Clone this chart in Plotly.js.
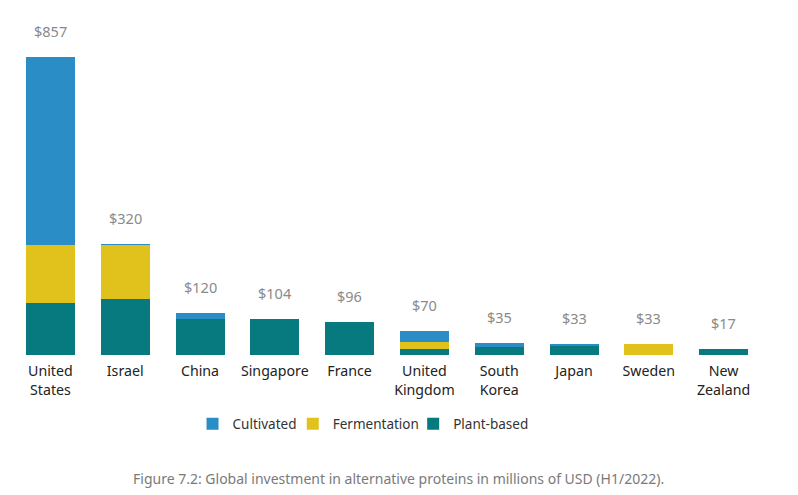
<!DOCTYPE html>
<html>
<head>
<meta charset="utf-8">
<script src="https://cdn.plot.ly/plotly-3.0.1.min.js"></script>
<style>html,body{margin:0;padding:0;background:#fff;}#chart{width:798px;height:495px;}</style>
</head>
<body>
<div id="chart"></div>
<script>
const categories = ["United<br>States","Israel","China","Singapore","France","United<br>Kingdom","South<br>Korea","Japan","Sweden","New<br>Zealand"];
const plantBased  = [150, 162, 104, 104, 96, 17, 24, 25, 0, 17];
const fermentation = [166, 153, 0, 0, 0, 21, 0, 0, 33, 0];
const cultivated  = [541, 5, 16, 0, 0, 32, 11, 8, 0, 0];
const totals      = [857, 320, 120, 104, 96, 70, 35, 33, 33, 17];
const totalLabels = ["$857","$320","$120","$104","$96","$70","$35","$33","$33","$17"];
const seriesNames = ["Cultivated","Fermentation","Plant-based"];
const colors = {cult:"#2a8dc5", ferm:"#e1c11c", plant:"#077a80"};

const font = "Noto Sans, Open Sans, sans-serif";
const traces = [
  {type:"bar", name:seriesNames[2], x:categories, y:plantBased, marker:{color:colors.plant}, hoverinfo:"skip", legend:"legend3"},
  {type:"bar", name:seriesNames[1], x:categories, y:fermentation, marker:{color:colors.ferm}, hoverinfo:"skip", legend:"legend2"},
  {type:"bar", name:seriesNames[0], x:categories, y:cultivated, marker:{color:colors.cult}, hoverinfo:"skip", legend:"legend"}
];

const annotations = categories.map((c,i)=>({
  x:c, y:totals[i], xref:"x", yref:"y", text:totalLabels[i], showarrow:false,
  yanchor:"bottom", yshift:14, font:{family:font, size:14.5, color:"#8a8a8a"}
}));
annotations.push({
  xref:"paper", yref:"paper", x:0.515, y:-0.37, xanchor:"center", yanchor:"middle",
  text:"Figure 7.2: Global investment in alternative proteins in millions of USD (H1/2022).",
  showarrow:false, font:{family:font, size:14, color:"#7a7a7a"}
});

const legendBase = (x)=>({orientation:"h", itemwidth:30, x:x, xanchor:"left", y:-0.206, yanchor:"middle",
  bgcolor:"rgba(0,0,0,0)", font:{family:font, size:13.5, color:"#333"}});

const layout = {
  width:798, height:495,
  margin:{l:13, r:37, t:20, b:140},
  barmode:"stack", bargap:0.345,
  paper_bgcolor:"#fff", plot_bgcolor:"#fff",
  font:{family:font, color:"#222"},
  xaxis:{type:"category", showline:false, showgrid:false, zeroline:false, ticks:"", ticklabelstandoff:6,
         tickfont:{family:font, size:14.2, color:"#222"}, fixedrange:true},
  yaxis:{range:[0,962], visible:false, fixedrange:true},
  legend:legendBase(0.240),
  legend2:legendBase(0.374),
  legend3:legendBase(0.535),
  annotations:annotations,
  showlegend:true
};
Plotly.newPlot("chart", traces, layout, {displayModeBar:false, staticPlot:true});
</script>
</body>
</html>
